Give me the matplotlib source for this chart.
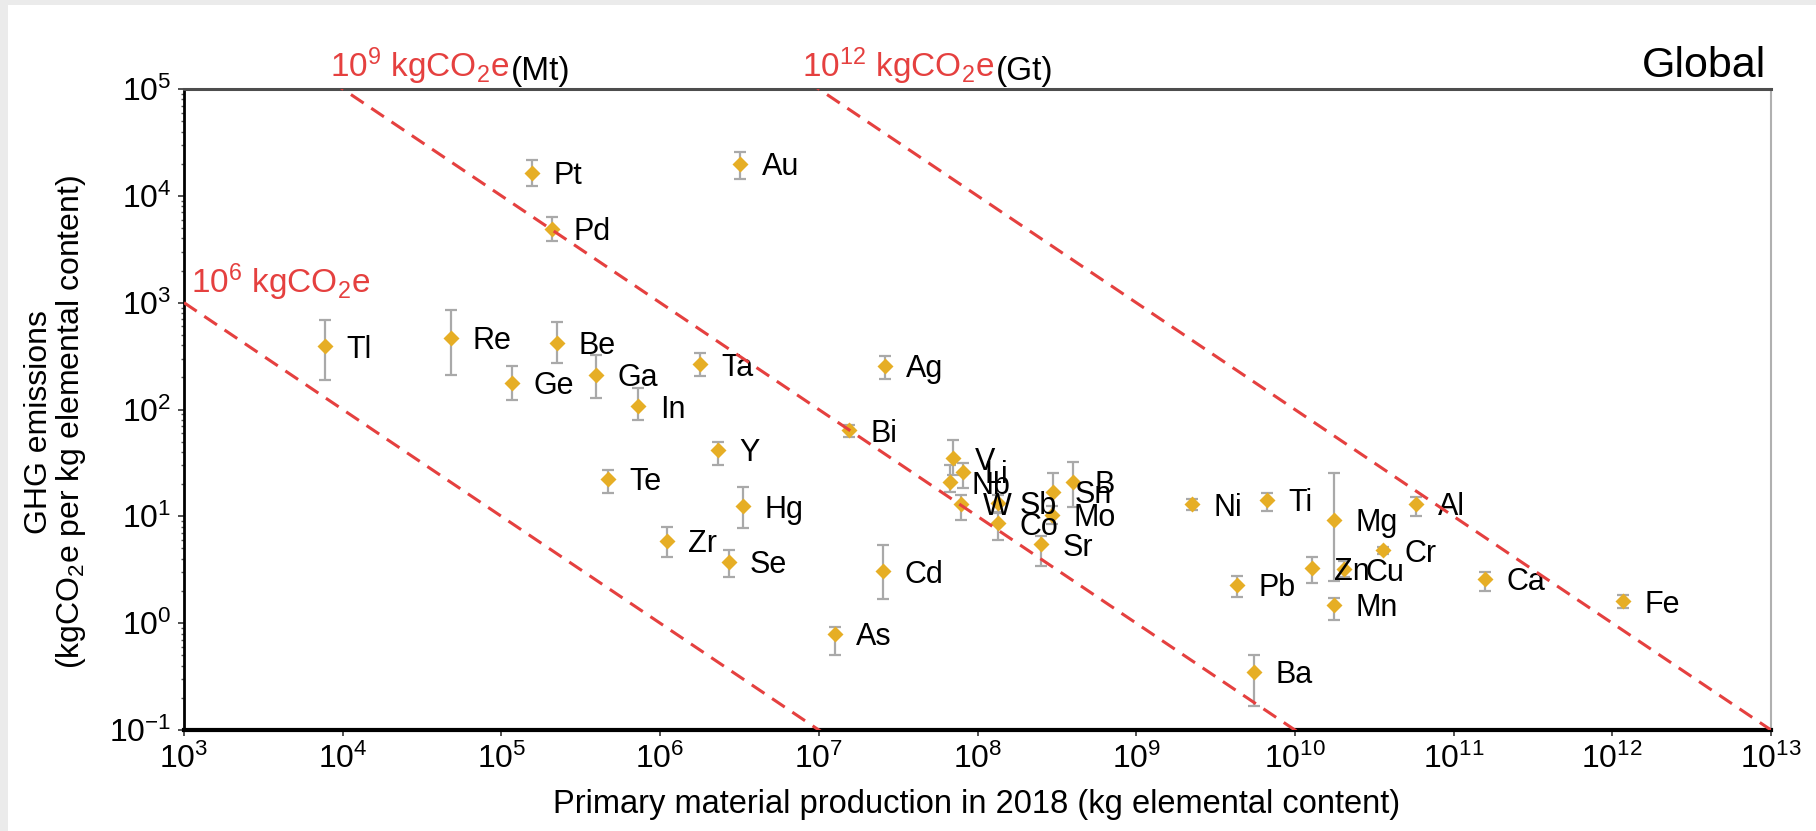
import numpy as np
import matplotlib.pyplot as plt
from matplotlib.patches import Rectangle

plt.rcParams['font.family'] = ['Liberation Sans', 'DejaVu Sans']
plt.rcParams['mathtext.fontset'] = 'custom'
plt.rcParams['mathtext.rm'] = 'Liberation Sans'
plt.rcParams['mathtext.it'] = 'Liberation Sans:italic'
plt.rcParams['mathtext.default'] = 'regular'

# element, primary production 2018 (kg), GHG (kgCO2e/kg), lower, upper
elements = ['Tl', 'Re', 'Pt', 'Ge', 'Pd', 'Be', 'Ga', 'In', 'Te', 'Zr',
            'Ta', 'Y', 'Se', 'Au', 'Hg', 'As', 'Bi', 'Cd', 'Ag', 'Nb',
            'V', 'W', 'Li', 'Sb', 'Co', 'Sr', 'Mo', 'Sn', 'B', 'Ni',
            'Pb', 'Ba', 'Ti', 'Zn', 'Mg', 'Mn', 'Cu', 'Cr', 'Al', 'Ca', 'Fe']
production = [7.7e3, 4.8e4, 1.55e5, 1.16e5, 2.07e5, 2.24e5, 3.97e5, 7.3e5, 4.7e5, 1.1e6,
              1.78e6, 2.3e6, 2.7e6, 3.2e6, 3.35e6, 1.26e7, 1.55e7, 2.55e7, 2.6e7, 6.7e7,
              7.0e7, 7.9e7, 8.1e7, 1.35e8, 1.35e8, 2.5e8, 2.93e8, 3.0e8, 4.0e8, 2.24e9,
              4.3e9, 5.5e9, 6.7e9, 1.29e10, 1.77e10, 1.77e10, 2.05e10, 3.57e10, 5.8e10, 1.58e11, 1.17e12]
ghg = [390, 470, 16500, 177, 4900, 420, 212, 107, 22.5, 5.9,
       265, 42, 3.75, 20000, 12.4, 0.8, 64, 3.05, 258, 20.8,
       35, 13.1, 26, 13.4, 8.6, 5.5, 10.4, 17, 21, 13.0,
       2.3, 0.35, 14.3, 3.27, 9.3, 1.48, 3.2, 4.8, 13.1, 2.6, 1.6]
ghg_low = [190, 210, 12300, 124, 3800, 273, 128, 80, 16.7, 4.2,
           204, 30, 2.7, 14300, 7.7, 0.5, 55, 1.7, 191, 17,
           24.5, 9.3, 18.4, 11, 6.0, 3.4, 8.5, 10.4, 12.3, 11.5,
           1.77, 0.166, 11.1, 2.37, 2.5, 1.07, 2.7, 4.4, 10, 1.98, 1.38]
ghg_high = [690, 850, 21700, 254, 6400, 656, 327, 160, 27.4, 7.9,
            339, 50, 4.8, 25700, 19, 0.93, 72, 5.4, 316, 30,
            52, 15.9, 31.6, 16, 10.7, 6.5, 12.5, 25.4, 32, 14.5,
            2.74, 0.505, 16.5, 4.2, 25.2, 1.73, 3.8, 5.2, 15.3, 3.0, 1.85]

# iso-emission lines (total kgCO2e)
iso_totals = [1e6, 1e9, 1e12]

red = '#e5403f'
gold = '#e6ae25'

fig = plt.figure(figsize=(18.16, 8.31), dpi=100)
fig.patch.set_facecolor('#ebebeb')
fig.add_artist(Rectangle((8 / 1816, 0), 1, 1 - 5 / 831, transform=fig.transFigure,
                         facecolor='white', edgecolor='none', zorder=-1))

ax = fig.add_axes([184 / 1816, 1 - 730 / 831, 1587 / 1816, 641 / 831])
ax.set_xscale('log')
ax.set_yscale('log')
ax.set_xlim(1e3, 1e13)
ax.set_ylim(1e-1, 1e5)

prod = np.array(production)
g = np.array(ghg)
yerr = [g - np.array(ghg_low), np.array(ghg_high) - g]
ax.errorbar(prod, g, yerr=yerr, fmt='none', ecolor='#a9a9a9', elinewidth=1.6,
            capsize=4.5, capthick=1.6, zorder=2)
ax.plot(prod, g, 'D', color=gold, ms=8.5, mec='none', zorder=3)

for el, x, y in zip(elements, prod, g):
    ax.annotate(el, (x, y), xytext=(15.5, -2.5), textcoords='offset points',
                ha='left', va='center', fontsize=22, zorder=4)

xs = np.array(ax.get_xlim())
for total in iso_totals:
    ax.plot(xs, total / xs, '--', color=red, lw=2.2, dashes=(5, 3), zorder=5)

# line labels
t9 = ax.text(0.092, 1.0187, r'$10^{9}$ kgCO$_2$e', color=red, fontsize=24,
             transform=ax.transAxes, ha='left', va='baseline')
ax.annotate('(Mt)', xy=(1, 0), xycoords=t9, xytext=(1, 0), textcoords='offset points',
            ha='left', va='bottom', fontsize=24)
t12 = ax.text(0.3894, 1.0187, r'$10^{12}$ kgCO$_2$e', color=red, fontsize=24,
              transform=ax.transAxes, ha='left', va='baseline')
ax.annotate('(Gt)', xy=(1, 0), xycoords=t12, xytext=(1, 0), textcoords='offset points',
            ha='left', va='bottom', fontsize=24)
ax.text(0.0044, 0.6817, r'$10^{6}$ kgCO$_2$e', color=red, fontsize=24,
        transform=ax.transAxes, ha='left', va='baseline')
ax.text(0.997, 1.0187, 'Global', fontsize=31, transform=ax.transAxes,
        ha='right', va='baseline')

ax.set_xticks([10.0 ** k for k in range(3, 14)])
ax.set_yticks([10.0 ** k for k in range(-1, 6)])
ax.tick_params(which='major', length=4, width=1.2, color='#333333', labelsize=23)
ax.tick_params(which='minor', length=2.5, width=1.0, color='#555555')
ax.tick_params(axis='x', pad=6)
ax.tick_params(axis='y', pad=5)

ax.spines['left'].set_linewidth(2)
ax.spines['bottom'].set_linewidth(3)
ax.spines['top'].set_color('#4d4d4d')
ax.spines['top'].set_linewidth(2.2)
ax.spines['right'].set_color('#b0b0b0')
ax.spines['right'].set_linewidth(1.5)

fig.text(56 / 1816, 1 - 422 / 831,
         'GHG emissions\n(kgCO$_2$e per kg elemental content)',
         rotation=90, ha='center', va='center', multialignment='center',
         fontsize=23, linespacing=1.0)
fig.text(977 / 1816, 1 - 813 / 831,
         'Primary material production in 2018 (kg elemental content)',
         ha='center', va='baseline', fontsize=23.5)

fig.savefig('out.png', dpi=100, facecolor=fig.get_facecolor())
